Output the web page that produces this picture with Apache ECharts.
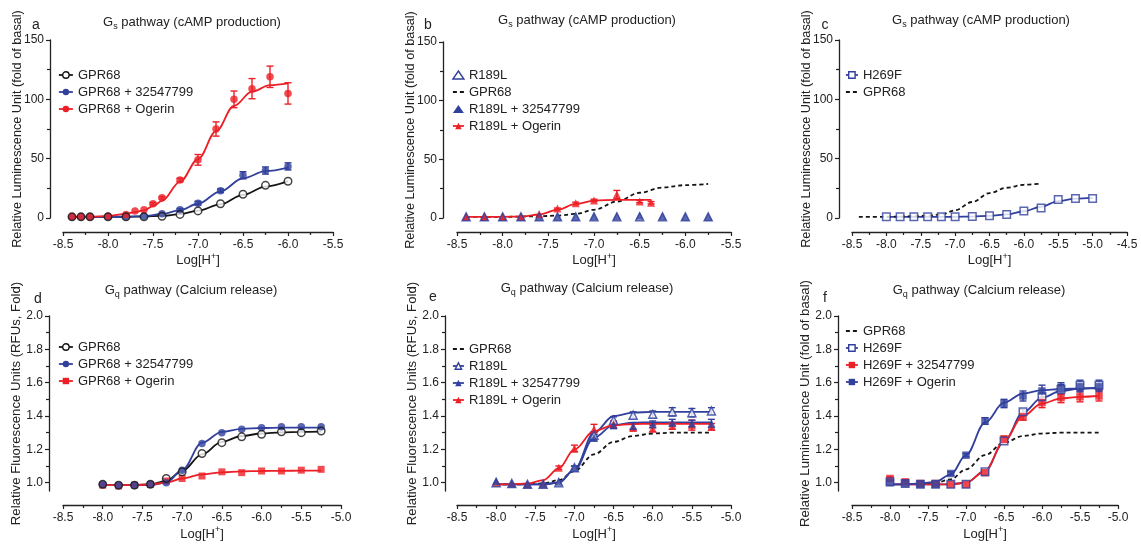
<!DOCTYPE html>
<html><head><meta charset="utf-8">
<script src="https://cdn.jsdelivr.net/npm/echarts@6/dist/echarts.min.js"></script>
<style>html,body{margin:0;padding:0;background:#fff}#c{width:1141px;height:548px}</style>
</head><body><div id="c"></div>
<script>
// ================= DATA =================
// tick labels
const yTicksGs = [0, 50, 100, 150];
const yTicksGq = [1.0, 1.2, 1.4, 1.6, 1.8, 2.0];
const yMinorGq = [1.1, 1.3, 1.5, 1.7, 1.9];

// ---- panel a : Gs, GPR68 ----
const aX_GPR68 = [-8.4,-8.3,-8.2,-8.0,-7.8,-7.6,-7.4,-7.2,-7.0,-6.75,-6.5,-6.25,-6.0];
const aY_GPR68 = [1,1,1,1,1,1,1.5,3,6,12,20,27.5,31];
const aFit_GPR68 = [1,1,1,1,1,1.2,1.8,3.2,6.2,11.5,19.5,26.5,31];
const aX_325 = [-8.4,-8.3,-8.2,-8.0,-7.8,-7.6,-7.4,-7.2,-7.0,-6.75,-6.5,-6.25,-6.0];
const aY_325 = [1,1,1,1,1,1.5,3.5,7,12.5,23,36,40,43.5];
const aE_325 = [0,0,0,0,0,0,0,1,1.5,1.5,3,3,3];
const aFit_325 = [1,1,1,1,1.1,1.6,3.4,6.6,12,22.5,33.5,39.5,42.5];
const aX_Og = [-8.4,-8.3,-8.2,-8.0,-7.8,-7.7,-7.6,-7.5,-7.4,-7.2,-7.0,-6.8,-6.6,-6.4,-6.2,-6.0];
const aY_Og = [1,1,1,1.5,3,6,7,12,17,32,49,75,100,109,119,105];
const aE_Og = [0,0,0,0,0,0,0,1,1,1.5,4.5,6,7,8.5,9,9];
const aFit_Og = [1,1,1.1,1.8,3.5,5,6.5,10,14.5,30.5,49.5,73,94.5,106.5,112,113.5];

// ---- panel b : Gs, R189L ----
const bX = [-8.4,-8.2,-8.0,-7.8,-7.6,-7.4,-7.2,-7.0,-6.75,-6.5,-6.25,-6.0,-5.75];
const bY_R189L = [1,1,1,1,1,1,1,1,1,1,1,1,1];
const bY_325 = [1,1,1,1,1,1,1,1.5,1.5,2,1.5,1,1];
const bX_Og = [-8.4,-8.2,-8.0,-7.8,-7.6,-7.4,-7.2,-7.0,-6.75,-6.5,-6.375];
const bY_Og = [1,1,1,1,3.5,8,12.5,15,20,14,13];
const bE_Og = [0,0,0,0,0,0.5,1,1,3.5,1,1];
const bFit_Og = [1,1,1,1.2,3,7,12,14.8,15.5,15.5,15.5];
const bX_GPR68 = [-8.4,-8.0,-7.6,-7.4,-7.2,-7.0,-6.75,-6.5,-6.25,-6.0,-5.75];
const bFit_GPR68 = [1,1,1.5,2,3.5,7,14,21.5,26,28,29];

// ---- panel c : Gs, H269F ----
const cX = [-8.0,-7.8,-7.6,-7.4,-7.2,-7.0,-6.75,-6.5,-6.25,-6.0,-5.75,-5.5,-5.25,-5.0];
const cY_H269F = [1,1,1,1,1,1,1.2,2,3,6,8.5,15.5,16.5,16.5];
const cFit_H269F = [1,1,1,1,1,1,1.2,1.8,3,5.7,9.5,14.3,16.3,17];
const cX_GPR68 = [-8.4,-8.0,-7.6,-7.4,-7.2,-7.0,-6.75,-6.5,-6.25,-6.0,-5.75];
const cFit_GPR68 = [1,1,1.5,2,3,6.5,13.5,21,25.5,28,29];

// ---- panels d, e, f share the dose points ----
const qX = [-8.0,-7.8,-7.6,-7.4,-7.2,-7.0,-6.75,-6.5,-6.25,-6.0,-5.75,-5.5,-5.25];

// panel d : Gq, GPR68
const dY_GPR68 = [0.99,0.985,0.985,0.99,1.025,1.065,1.175,1.24,1.275,1.29,1.305,1.30,1.31];
const dFit_GPR68 = [0.985,0.985,0.985,0.99,1.01,1.07,1.17,1.245,1.28,1.295,1.302,1.305,1.306];
const dY_325 = [0.99,0.985,0.985,0.99,1.0,1.075,1.235,1.30,1.32,1.33,1.335,1.335,1.335];
const dFit_325 = [0.985,0.985,0.985,0.985,1.0,1.075,1.24,1.305,1.323,1.328,1.33,1.33,1.33];
const dY_Og = [0.985,0.98,0.985,0.99,1.01,1.025,1.04,1.065,1.06,1.07,1.07,1.075,1.08];
const dFit_Og = [0.985,0.985,0.985,0.99,1.0,1.025,1.05,1.062,1.068,1.07,1.071,1.072,1.072];

// panel e : Gq, R189L
const eFit_GPR68 = [0.99,0.99,0.99,0.995,1.015,1.07,1.17,1.245,1.28,1.295,1.3,1.3,1.3];
const eY_R189L = [1.0,0.995,0.99,0.99,1.0,1.09,1.285,1.375,1.405,1.41,1.425,1.42,1.43];
const eE_R189L = [0,0,0,0,0,0.01,0.02,0.02,0.02,0.02,0.025,0.025,0.02];
const eFit_R189L = [0.99,0.99,0.99,0.99,1.0,1.08,1.3,1.40,1.42,1.425,1.425,1.425,1.425];
const eY_325 = [1.01,0.995,0.99,0.99,1.005,1.09,1.27,1.345,1.34,1.35,1.36,1.355,1.355];
const eE_325 = [0,0,0,0,0,0.01,0.02,0.02,0.02,0.02,0.02,0.02,0.025];
const eFit_325 = [0.99,0.99,0.99,0.99,1.0,1.075,1.27,1.345,1.36,1.362,1.362,1.362,1.362];
const eY_Og = [1.0,0.995,0.99,0.995,1.09,1.205,1.32,1.35,1.33,1.325,1.34,1.345,1.335];
const eE_Og = [0,0,0,0,0.01,0.02,0.03,0.02,0.02,0.02,0.02,0.03,0.02];
const eFit_Og = [0.99,0.99,0.995,1.015,1.085,1.2,1.31,1.345,1.352,1.353,1.353,1.353,1.353];

// panel f : Gq, H269F
const fX_GPR68 = [-7.6,-7.4,-7.2,-7.0,-6.75,-6.5,-6.25,-6.0,-5.75,-5.5,-5.25];
const fFit_GPR68 = [0.995,1.0,1.02,1.08,1.165,1.24,1.28,1.295,1.30,1.30,1.30];
const fY_H269F = [1.005,0.995,0.99,0.99,0.99,0.99,1.065,1.25,1.425,1.515,1.56,1.585,1.585];
const fE_H269F = [0.01,0,0,0,0,0,0.01,0.01,0.015,0.02,0.03,0.03,0.03];
const fFit_H269F = [0.99,0.99,0.99,0.99,0.99,1.0,1.07,1.245,1.42,1.51,1.55,1.565,1.57];
const fY_325 = [1.025,1.005,0.995,0.995,0.99,0.99,1.06,1.26,1.395,1.48,1.51,1.515,1.52];
const fE_325 = [0.01,0.01,0,0,0,0.01,0.01,0.02,0.02,0.03,0.03,0.03,0.03];
const fFit_325 = [0.99,0.99,0.99,0.99,0.99,1.0,1.07,1.25,1.40,1.475,1.505,1.515,1.52];
const fY_Og = [1.0,0.995,0.99,0.99,1.055,1.165,1.37,1.475,1.52,1.55,1.565,1.575,1.575];
const fE_Og = [0,0,0,0,0.01,0.01,0.02,0.025,0.03,0.035,0.035,0.03,0.03];
const fFit_Og = [0.99,0.99,0.995,1.005,1.05,1.165,1.36,1.48,1.535,1.555,1.562,1.565,1.566];

// ================= STYLE / LAYOUT =================
const FONT = '"Liberation Sans", Arial, Helvetica, sans-serif';
const RED = '#ec1f27', BLUE = '#31409c', BLACK = '#151515', AX = '#222';
const PI = {a:0,b:1,c:2,d:3,e:4,f:5};
const panels = [
  {id:'a', grid:{left:63, top:40, width:270, height:178}, x:[-8.5,-5.5], gs:true, yOff:13, xOff:14,
   yName:'Relative Luminescence Unit (fold of basal)', title:[192,22], letter:[36,25], legend:{left:58, top:68, w:14}},
  {id:'b', grid:{left:457, top:42, width:274, height:176}, x:[-8.5,-5.5], gs:true, yOff:14, xOff:14,
   yName:'Relative Luminescence Unit (fold of basal)', title:[587,20], letter:[428,25], legend:{left:452, top:68, w:11}},
  {id:'c', grid:{left:852, top:40, width:275, height:178}, x:[-8.5,-4.5], gs:true, yOff:13, xOff:14,
   yName:'Relative Luminescence Unit (fold of basal)', title:[981,20], letter:[825,25], legend:{left:845, top:68, w:12}},
  {id:'d', grid:{left:63, top:316, width:278, height:175}, x:[-8.5,-5.0], gs:false, yOff:14, xOff:14,
   yName:'Relative Fluorescence Units (RFUs, Fold)', title:[191,290], letter:[38,299], legend:{left:58, top:340, w:14}},
  {id:'e', grid:{left:457, top:316, width:274, height:175}, x:[-8.5,-5.0], gs:false, yOff:12, xOff:14,
   yName:'Relative Fluorescence Units (RFUs, Fold)', title:[587,288], letter:[433,297], legend:{left:452, top:342, w:11}},
  {id:'f', grid:{left:852, top:316, width:266, height:175}, x:[-8.5,-5.0], gs:false, yOff:14, xOff:14,
   yName:'Relative Luminescence Unit (fold of basal)', title:[979,290], letter:[825,298], legend:{left:845, top:324, w:12}},
];

const axLine = {show:true, onZero:false, lineStyle:{color:AX, width:1.3}};
const tickStyle = {color:AX, width:1.2};
const grids = [], xAxes = [], yAxes = [], minorY = [];
panels.forEach((p, i) => {
  grids.push(Object.assign({containLabel:false}, p.grid));
  xAxes.push({
    type:'value', gridIndex:i, min:p.x[0], max:p.x[1], interval:0.5, offset:p.xOff,
    axisLine:axLine, axisTick:{show:true, length:4, lineStyle:tickStyle},
    minorTick:{show:true, splitNumber:2, length:3, lineStyle:tickStyle},
    splitLine:{show:false}, minorSplitLine:{show:false},
    axisLabel:{formatter:v=>v.toFixed(1), fontSize:12, color:AX, fontFamily:FONT, margin:7, showMinLabel:true, showMaxLabel:true},
    name:'{t|Log[H}{sup|+}{t|]}', nameLocation:'middle', nameGap:p.gs?18:22,
    nameTextStyle:{rich:{
      t:{fontSize:13, fontFamily:FONT, color:AX, lineHeight:14, verticalAlign:'bottom'},
      sup:{fontSize:9, fontFamily:FONT, color:AX, lineHeight:9, padding:[0,0,8,0]}}}
  });
  const y = {
    type:'value', gridIndex:i, position:'left', offset:p.yOff,
    axisLine:axLine, splitLine:{show:false}, minorSplitLine:{show:false},
    name:p.yName, nameLocation:'middle', nameGap:26, nameMoveOverlap:false,
    nameTextStyle:{fontSize:p.gs?12.7:13.2, fontFamily:FONT, color:AX}
  };
  if (p.gs) {
    Object.assign(y, {min:yTicksGs[0], max:yTicksGs[yTicksGs.length-1], interval:50,
      axisTick:{show:true, length:4, lineStyle:tickStyle},
      minorTick:{show:true, splitNumber:2, length:3, lineStyle:tickStyle},
      axisLabel:{fontSize:12, color:AX, fontFamily:FONT, margin:6}});
  } else {
    Object.assign(y, {min:0.95, max:2.0,
      axisTick:{show:true, length:4, lineStyle:tickStyle, customValues:yTicksGq},
      axisLabel:{fontSize:12, color:AX, fontFamily:FONT, margin:6, customValues:yTicksGq, formatter:v=>v.toFixed(1)}});
    minorY.push({
      type:'value', gridIndex:i, position:'left', offset:p.yOff, min:0.95, max:2.0,
      axisLine:{show:false}, splitLine:{show:false},
      axisTick:{show:true, length:3, lineStyle:tickStyle, customValues:yMinorGq},
      axisLabel:{show:false}
    });
  }
  yAxes.push(y);
});
const allY = yAxes.concat(minorY);

// ================= SERIES BUILDERS =================
const S = [];
const zip = (xs, ys) => xs.map((x, k) => [x, ys[k]]);
function fit(pid, name, xs, ys, st) {
  S.push({
    type:'line', name:pid+':'+name, xAxisIndex:PI[pid], yAxisIndex:PI[pid],
    data:zip(xs, ys), smooth:0.35, smoothMonotone:'x', showSymbol:false,
    symbol:st.symbol || 'none', symbolSize:st.size || 7,
    itemStyle:{color:st.open ? '#fff' : st.color, borderColor:st.color, borderWidth:st.open?1.4:0},
    lineStyle:{color:st.color, width:1.8, type:st.dash ? [4,3] : 'solid'},
    z:2, clip:false, silent:true, animation:false
  });
}
function pts(pid, name, xs, ys, es, st) {
  const base = {type:'scatter', name:pid+':'+name, xAxisIndex:PI[pid], yAxisIndex:PI[pid],
    data:zip(xs, ys), symbol:st.symbol, symbolSize:st.size || 7, clip:false, silent:true, animation:false};
  if (es) {
    const eb = [];
    xs.forEach((x, k) => { if (es[k] > 0) eb.push([x, ys[k] - es[k], ys[k] + es[k]]); });
    S.push({type:'custom', name:pid+':'+name, xAxisIndex:PI[pid], yAxisIndex:PI[pid], data:eb,
      encode:{x:0, y:[1,2]}, z:3, clip:false, silent:true, animation:false,
      renderItem:(params, api) => {
        const lo = api.coord([api.value(0), api.value(1)]);
        const hi = api.coord([api.value(0), api.value(2)]);
        const w = 3.5, s = {stroke:st.color, lineWidth:1.4};
        return {type:'group', children:[
          {type:'line', shape:{x1:lo[0], y1:lo[1], x2:hi[0], y2:hi[1]}, style:s},
          {type:'line', shape:{x1:hi[0]-w, y1:hi[1], x2:hi[0]+w, y2:hi[1]}, style:s},
          {type:'line', shape:{x1:lo[0]-w, y1:lo[1], x2:lo[0]+w, y2:lo[1]}, style:s}]};
      }});
  }
  if (st.open) {
    S.push(Object.assign({}, base, {z:3, itemStyle:{color:'#fff', borderWidth:0}}));
    S.push(Object.assign({}, base, {z:5, itemStyle:{color:'rgba(255,255,255,0)', borderColor:st.color, borderWidth:1.5}}));
  } else {
    S.push(Object.assign({}, base, {z:4, itemStyle:{color:st.color, borderWidth:0}}));
  }
}

// ---- panel a ----
const stA1 = {color:BLACK, symbol:'circle', open:true, size:7.5};
const stA2 = {color:BLUE, symbol:'circle', size:7.5};
const stA3 = {color:RED, symbol:'circle', size:7.5};
fit('a','GPR68', aX_GPR68, aFit_GPR68, stA1);
fit('a','GPR68 + 32547799', aX_325, aFit_325, stA2);
fit('a','GPR68 + Ogerin', aX_Og, aFit_Og, stA3);
pts('a','GPR68', aX_GPR68, aY_GPR68, null, stA1);
pts('a','GPR68 + 32547799', aX_325, aY_325, aE_325, stA2);
pts('a','GPR68 + Ogerin', aX_Og, aY_Og, aE_Og, stA3);

// ---- panel b ----
const stB1 = {color:BLUE, symbol:'triangle', open:true, size:8};
const stB2 = {color:BLACK, dash:true};
const stB3 = {color:BLUE, symbol:'triangle', size:8};
const stB4 = {color:RED, symbol:'triangle', size:8};
pts('b','R189L', bX, bY_R189L, null, stB1);
fit('b','GPR68', bX_GPR68, bFit_GPR68, stB2);
pts('b','R189L + 32547799', bX, bY_325, null, stB3);
fit('b','R189L + Ogerin', bX_Og, bFit_Og, stB4);
pts('b','R189L + Ogerin', bX_Og, bY_Og, bE_Og, stB4);

// ---- panel c ----
const stC1 = {color:BLUE, symbol:'rect', open:true, size:7.5};
fit('c','H269F', cX, cFit_H269F, stC1);
fit('c','GPR68', cX_GPR68, cFit_GPR68, stB2);
pts('c','H269F', cX, cY_H269F, null, stC1);

// ---- panel d ----
const stD3 = {color:RED, symbol:'rect', size:7};
fit('d','GPR68', qX, dFit_GPR68, stA1);
fit('d','GPR68 + 32547799', qX, dFit_325, stA2);
fit('d','GPR68 + Ogerin', qX, dFit_Og, stD3);
pts('d','GPR68 + Ogerin', qX, dY_Og, null, stD3);
pts('d','GPR68 + 32547799', qX, dY_325, null, stA2);
pts('d','GPR68', qX, dY_GPR68, null, stA1);

// ---- panel e ----
fit('e','GPR68', qX, eFit_GPR68, stB2);
fit('e','R189L', qX, eFit_R189L, stB1);
fit('e','R189L + 32547799', qX, eFit_325, stB3);
fit('e','R189L + Ogerin', qX, eFit_Og, stB4);
pts('e','R189L + Ogerin', qX, eY_Og, eE_Og, stB4);
pts('e','R189L', qX, eY_R189L, eE_R189L, stB1);
pts('e','R189L + 32547799', qX, eY_325, eE_325, stB3);

// ---- panel f ----
const stF2 = {color:BLUE, symbol:'rect', open:true, size:7.5};
const stF3 = {color:RED, symbol:'rect', size:7.5};
const stF4 = {color:BLUE, symbol:'rect', size:7.5};
fit('f','GPR68', fX_GPR68, fFit_GPR68, stB2);
fit('f','H269F', qX, fFit_H269F, stF2);
fit('f','H269F + 32547799', qX, fFit_325, stF3);
fit('f','H269F + Ogerin', qX, fFit_Og, stF4);
pts('f','H269F', qX, fY_H269F, fE_H269F, stF2);
pts('f','H269F + 32547799', qX, fY_325, fE_325, stF3);
pts('f','H269F + Ogerin', qX, fY_Og, fE_Og, stF4);

// ================= LEGENDS =================
function legItem(pid, name, st, noLine) {
  const it = {name:pid+':'+name,
    itemStyle: st.symbol ? {color:st.open?'#fff':st.color, borderColor:st.color, borderWidth:st.open?1.4:0, opacity:1}
                         : {color:'rgba(0,0,0,0)', borderWidth:0, opacity:0}};
  if (!noLine) it.lineStyle = {color:st.color, width:1.8, type:st.dash?[4,3]:'solid'};
  return it;
}
const legendItems = {
  a:[legItem('a','GPR68',stA1), legItem('a','GPR68 + 32547799',stA2), legItem('a','GPR68 + Ogerin',stA3)],
  b:[legItem('b','R189L',stB1,true), legItem('b','GPR68',stB2), legItem('b','R189L + 32547799',stB3,true), legItem('b','R189L + Ogerin',stB4)],
  c:[legItem('c','H269F',stC1), legItem('c','GPR68',stB2)],
  d:[legItem('d','GPR68',stA1), legItem('d','GPR68 + 32547799',stA2), legItem('d','GPR68 + Ogerin',stD3)],
  e:[legItem('e','GPR68',stB2), legItem('e','R189L',stB1), legItem('e','R189L + 32547799',stB3), legItem('e','R189L + Ogerin',stB4)],
  f:[legItem('f','GPR68',stB2), legItem('f','H269F',stF2), legItem('f','H269F + 32547799',stF3), legItem('f','H269F + Ogerin',stF4)],
};
const legends = panels.map(p => ({
  orient:'vertical', left:p.legend.left, top:p.legend.top, itemWidth:p.legend.w, itemHeight:8, itemGap:3,
  padding:0, selectedMode:false, data:legendItems[p.id],
  formatter:n => n.slice(2),
  textStyle:{fontSize:13, fontFamily:FONT, color:AX, lineHeight:14}
}));

// ================= TITLES / LETTERS =================
const graphics = [];
panels.forEach(p => {
  const sub = p.gs ? 's' : 'q';
  const rest = p.gs ? ' pathway (cAMP production)' : ' pathway (Calcium release)';
  graphics.push({type:'text', x:p.title[0], y:p.title[1], silent:true, style:{
    text:'{g|G}{sub|'+sub+'}{g|'+rest+'}', align:'center', verticalAlign:'middle',
    textAlign:'center', textVerticalAlign:'middle', fill:AX,
    rich:{g:{fontSize:13, fontFamily:FONT, fill:AX, color:AX, lineHeight:14},
          sub:{fontSize:9, fontFamily:FONT, fill:AX, color:AX, lineHeight:9, padding:[10,0,0,0]}}}});
  graphics.push({type:'text', x:p.letter[0], y:p.letter[1], silent:true, style:{
    text:p.id, fontSize:14, fontFamily:FONT, fill:AX, align:'center', verticalAlign:'middle',
    textAlign:'center', textVerticalAlign:'middle'}});
});

const chart = echarts.init(document.getElementById('c'), null, {renderer:'canvas'});
chart.setOption({
  animation:false, backgroundColor:'#fff',
  grid:grids, xAxis:xAxes, yAxis:allY, legend:legends, series:S, graphic:graphics,
  tooltip:{show:false}
});
</script></body></html>
